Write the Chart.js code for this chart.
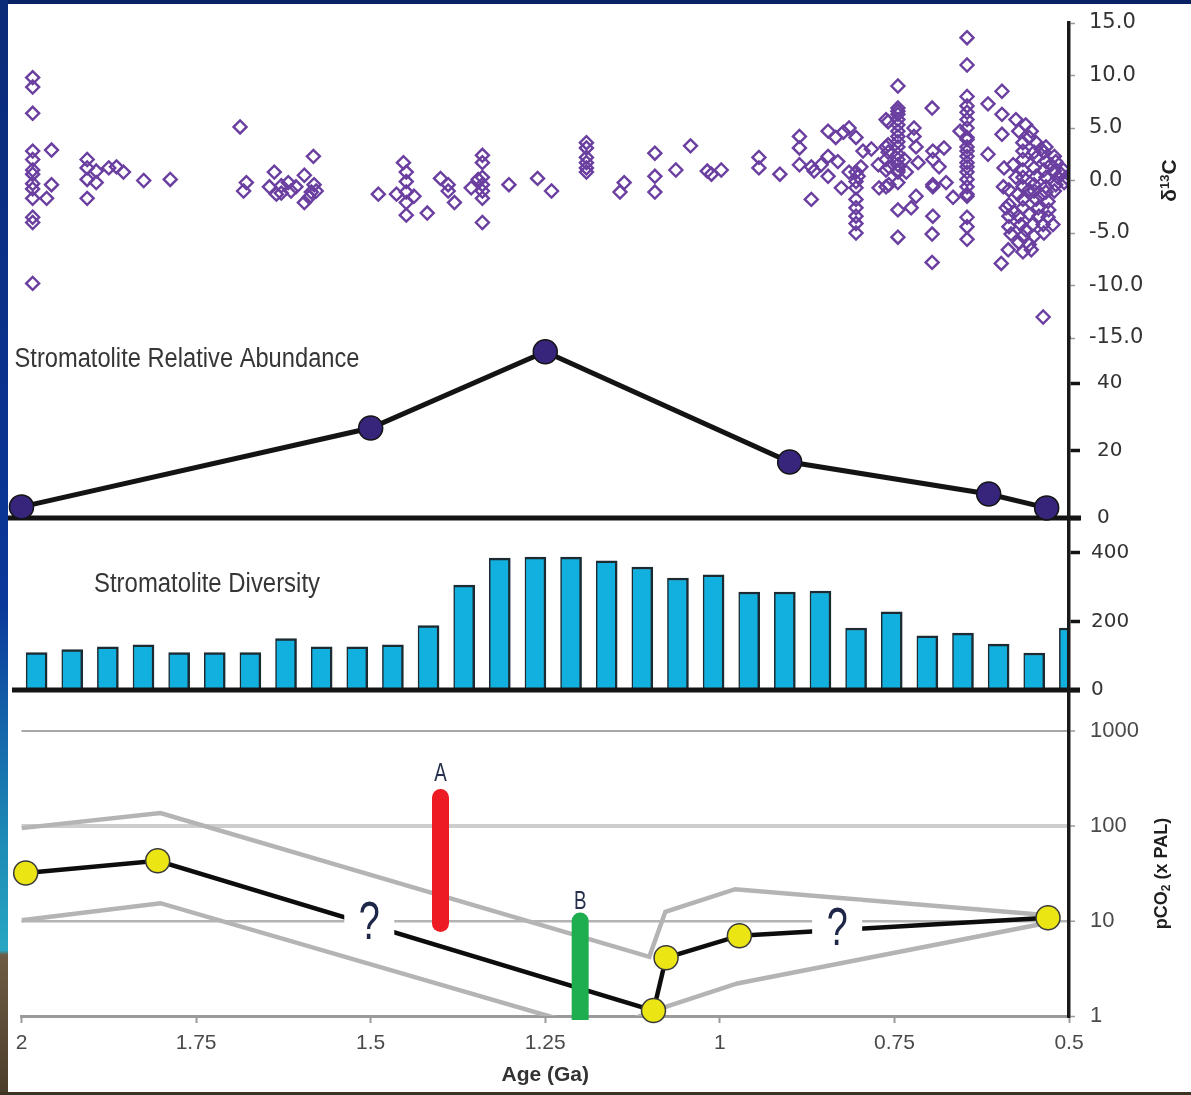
<!DOCTYPE html>
<html>
<head>
<meta charset="utf-8">
<title>Stromatolites, δ13C and pCO2, 2.0–0.5 Ga</title>
<script src="https://cdn.jsdelivr.net/npm/chart.js@4/dist/chart.umd.min.js"></script>
<style>
  html, body { margin: 0; padding: 0; width: 1191px; height: 1095px; overflow: hidden; background: #0a2263; }
  #edge { position: absolute; left: 0; top: 0; width: 8px; height: 1095px;
    background: linear-gradient(to bottom, #0b2a78 0%, #0a379a 55%, #1360a8 65%, #1f8fb8 78%, #27a6c2 86.8%, #6e5b43 87.2%, #4b3d2b 100%); }
  #foot { position: absolute; left: 0; top: 1092px; width: 1191px; height: 3px; background: #3d3322; }
  #panel { position: absolute; left: 8px; top: 4px; width: 1183px; height: 1088px; background: #ffffff; }
  #panel canvas { display: block; }
</style>
</head>
<body>
<div id="edge"></div>
<div id="panel"><canvas id="chart" width="1183" height="1088" style="width:1183px;height:1088px"></canvas></div>
<div id="foot"></div>
<script>
// ---- carbonate δ13C record: [age (Ga), δ13C (‰)] ----
const carbonIsotopes = [
  [1.984, 9.8], [1.984, 8.9], [1.984, 6.4], [1.984, 2.8], [1.984, 2.0], [1.984, 1.0], [1.984, 0.6],
  [1.984, -0.3], [1.984, -0.8], [1.984, -1.7], [1.984, -3.5], [1.984, -4.0], [1.984, -9.8],
  [1.964, -1.7], [1.957, 2.9], [1.957, -0.4],
  [1.906, 2.0], [1.906, 1.2], [1.906, 0.1], [1.906, -1.7], [1.893, 0.9], [1.893, -0.2],
  [1.875, 1.2], [1.864, 1.3], [1.854, 0.8], [1.825, 0.0], [1.787, 0.1],
  [1.687, 5.1], [1.682, -1.0], [1.678, -0.2],
  [1.645, -0.6], [1.638, 0.8], [1.635, -1.3], [1.628, -0.5], [1.628, -1.2], [1.618, -0.2], [1.614, -1.0], [1.607, -0.6],
  [1.595, 0.5], [1.595, -2.1], [1.588, -1.6], [1.585, -1.1], [1.582, 2.3], [1.581, -0.4], [1.578, -1.0],
  [1.489, -1.3], [1.463, -1.3], [1.453, 1.7], [1.449, 0.8], [1.449, -0.1], [1.449, -1.1], [1.449, -2.1], [1.449, -3.3],
  [1.438, -1.5], [1.419, -3.1], [1.400, 0.2], [1.389, -0.4], [1.389, -1.0], [1.380, -2.1], [1.356, -0.7],
  [1.346, 0.1], [1.340, 2.4], [1.340, 1.7], [1.340, 0.3], [1.340, -0.4], [1.340, -1.0], [1.340, -1.7], [1.340, -4.0],
  [1.302, -0.4], [1.261, 0.2], [1.241, -1.0],
  [1.191, 3.6], [1.191, 3.1], [1.191, 2.2], [1.191, 1.7], [1.191, 1.2], [1.191, 0.8],
  [1.143, -1.1], [1.137, -0.2], [1.093, 2.6], [1.093, 0.4], [1.093, -1.1],
  [1.063, 1.0], [1.042, 3.3], [1.018, 0.9], [1.012, 0.6], [0.998, 1.0],
  [0.944, 2.2], [0.944, 1.2], [0.914, 0.6], [0.886, 4.2], [0.886, 3.1], [0.886, 1.5],
  [0.869, 1.3], [0.869, -1.8], [0.865, 0.9], [0.855, 1.5], [0.845, 4.7], [0.845, 2.3], [0.845, 0.4],
  [0.834, 4.1], [0.831, 1.8], [0.826, -0.7], [0.823, 4.6], [0.815, 5.0], [0.815, 0.8],
  [0.805, 4.1], [0.805, 0.8], [0.805, -0.1], [0.805, -0.7], [0.805, -1.8], [0.805, -2.6], [0.805, -3.4], [0.805, -4.1], [0.805, -5.0],
  [0.802, 0.4], [0.798, 1.3], [0.795, 2.8], [0.783, 3.0], [0.773, 1.5], [0.772, -0.7],
  [0.762, 5.8], [0.762, 3.2], [0.762, 2.0], [0.762, 1.0], [0.762, -0.6],
  [0.759, 5.6], [0.759, 3.4], [0.759, 2.7], [0.758, 1.3], [0.758, -0.4],
  [0.745, 9.0], [0.745, 6.9], [0.745, 6.6], [0.745, 6.3], [0.745, 5.8], [0.745, 5.3], [0.745, 4.7], [0.745, 4.2], [0.745, 3.7],
  [0.745, 3.2], [0.745, 2.5], [0.745, 2.0], [0.745, 1.5], [0.745, 1.0], [0.745, 0.8], [0.745, -0.2], [0.745, -2.8], [0.745, -5.4],
  [0.736, 2.0], [0.733, 0.8], [0.726, -2.6], [0.722, 5.0], [0.722, 4.2], [0.719, 3.2], [0.719, -1.5], [0.716, 1.7],
  [0.696, 6.9], [0.696, -5.1], [0.696, -7.8], [0.695, 2.8], [0.695, 2.0], [0.695, -0.4], [0.695, -3.4], [0.695, -0.6],
  [0.686, 1.3], [0.679, 3.1], [0.676, -0.2], [0.666, -1.6], [0.656, 4.7],
  [0.646, 13.6], [0.646, 11.0], [0.646, 8.0], [0.646, 7.1], [0.646, 6.5], [0.646, 5.8], [0.646, 5.0], [0.646, 4.1],
  [0.646, 3.9], [0.646, 3.2], [0.646, 2.8], [0.646, 2.3], [0.646, 1.7], [0.646, 1.3], [0.646, 0.8], [0.646, 0.1],
  [0.646, -0.6], [0.646, -1.3], [0.646, -1.5], [0.646, -3.5], [0.646, -4.4], [0.646, -5.6],
  [0.616, 7.3], [0.616, 2.5], [0.596, 8.5], [0.596, 6.3], [0.596, 4.4], [0.593, 1.2], [0.594, -0.6],
  [0.597, -7.9], [0.587, -6.6], [0.586, -0.9],
  [0.576, 5.8], [0.562, 5.3], [0.572, 4.7], [0.554, 4.7], [0.557, 4.1], [0.566, 3.6], [0.547, 3.6], [0.533, 3.2], [0.540, 3.0],
  [0.566, 2.8], [0.550, 2.7], [0.536, 2.7], [0.521, 2.3], [0.566, 2.0], [0.547, 2.2], [0.533, 1.8], [0.519, 1.8],
  [0.580, 1.5], [0.526, 1.5], [0.566, 1.0], [0.550, 1.2], [0.536, 1.0], [0.521, 0.9], [0.508, 1.0], [0.511, 0.6],
  [0.576, 0.3], [0.566, 0.3], [0.547, 0.4], [0.533, 0.3], [0.516, 0.3], [0.504, 0.3],
  [0.566, -0.6], [0.550, -0.4], [0.533, -0.6], [0.519, -0.4], [0.507, -0.2], [0.557, -0.9],
  [0.573, -1.3], [0.550, -1.0], [0.533, -1.1], [0.521, -1.0], [0.540, -1.4],
  [0.586, -2.3], [0.566, -1.8], [0.547, -1.8], [0.530, -2.0], [0.590, -2.6], [0.566, -2.6], [0.544, -2.6], [0.529, -2.8], [0.579, -3.0],
  [0.586, -3.4], [0.572, -3.4], [0.557, -3.2], [0.543, -3.4], [0.530, -3.5],
  [0.586, -4.4], [0.569, -4.2], [0.552, -4.2], [0.537, -4.2], [0.523, -4.2], [0.562, -4.7],
  [0.583, -5.1], [0.566, -5.3], [0.550, -5.3], [0.536, -5.0], [0.572, -5.9], [0.557, -6.1],
  [0.566, -6.8], [0.554, -6.6],
  [0.537, -13.0]
];

// ---- stromatolite relative abundance (%) ----
const abundanceAge   = [2.0, 1.5, 1.25, 0.9, 0.615, 0.532];
const abundanceValue = [3.3, 26.7, 49.3, 16.6, 7.1, 3.0];

// ---- stromatolite diversity, one bar per time bin (oldest first) ----
const diversityBin   = [0, 1, 2, 3, 4, 5, 6, 7, 8, 9, 10, 11, 12, 13, 14, 15, 16, 17, 18, 19, 20, 21, 22, 23, 24, 25, 26, 27, 28, 29];
const diversityCount = [109, 118, 126, 132, 109, 109, 109, 150, 126, 126, 132, 188, 306, 385, 388, 388, 377, 359, 327, 336,
                        286, 286, 289, 181, 228, 158, 166, 134, 108, 181];

// ---- pCO2 (x PAL): best estimate and envelope ----
const pco2Age        = [1.994, 1.805, 1.095, 1.077, 0.972, 0.530];
const pco2Value      = [32, 43, 1.14, 4.1, 7.0, 10.8];
const pco2UpperAge   = [2.0, 1.801, 1.101, 1.078, 0.978, 0.530];
const pco2UpperValue = [95, 137, 4.2, 12.5, 21.6, 11.5];
const pco2LowerAge   = [2.0, 1.801, 1.17, 1.095, 0.975, 0.530];
const pco2LowerValue = [10.2, 15.4, 0.69, 1.13, 2.2, 9.6];

// independent estimates A and B
const estimateA = { label: 'A', age: 1.4, range: [9.4, 200] };
const estimateB = { label: 'B', age: 1.2, range: [0.93, 10] };
// gaps in the pCO2 curve marked "?"
const unknownSpans = [ { age: 1.502, pco2: 10.2 }, { age: 0.832, pco2: 8.9 } ];

// ---- tick values ----
const ageTicks       = [2, 1.75, 1.5, 1.25, 1, 0.75, 0.5];
const carbonTicks    = [15, 10, 5, 0, -5, -10, -15];
const abundanceTicks = [40, 20, 0];
const diversityTicks = [400, 200, 0];
const pco2Ticks      = [1000, 100, 10, 1];

// ---------------------------------------------------------------
const xy = (xs, ys) => xs.map((x, i) => ({ x: x, y: ys[i] }));
const useTicks = values => scale => {
  scale.ticks = values.slice().sort((a, b) => a - b).map(v => ({ value: v }));
};
const AXIS_W = 122;
// fixed axis width; no extra room reserved for half-labels at the ends
const rightWidth = s => { s.width = AXIS_W; s.paddingTop = 0; s.paddingBottom = 0; };

const pco2GridStyle = { 1000: ['#a8a8a8', 2], 100: ['#cdcdcd', 4], 10: ['#b3b3b3', 2.5], 1: ['#9a9a9a', 3] };
const gridStyle = (c, k, fallback) => (c.tick && pco2GridStyle[c.tick.value]) ? pco2GridStyle[c.tick.value][k] : fallback;

function fittedText(ctx, text, x, y, width, font, color) {
  ctx.save();
  ctx.font = font;
  const k = width / ctx.measureText(text).width;
  ctx.translate(x, y);
  ctx.scale(k, 1);
  ctx.fillStyle = color;
  ctx.textAlign = 'left';
  ctx.textBaseline = 'alphabetic';
  ctx.fillText(text, 0, 0);
  ctx.restore();
}

function rotatedTitle(ctx, parts, cx, cy) {
  ctx.save();
  ctx.translate(cx, cy);
  ctx.rotate(-Math.PI / 2);
  let total = 0;
  parts.forEach(p => { ctx.font = p.font; p.w = ctx.measureText(p.t).width; total += p.w; });
  let x = -total / 2;
  ctx.textBaseline = 'middle';
  ctx.textAlign = 'left';
  ctx.fillStyle = '#1f1f1f';
  parts.forEach(p => { ctx.font = p.font; ctx.fillText(p.t, x, p.dy || 0); x += p.w; });
  ctx.restore();
}

function baseline(ctx, y, x0, x1, w) {
  ctx.save();
  ctx.strokeStyle = '#141414';
  ctx.lineWidth = w;
  ctx.beginPath();
  ctx.moveTo(x0, y);
  ctx.lineTo(x1, y);
  ctx.stroke();
  ctx.restore();
}

const decorations = {
  id: 'decorations',
  beforeDatasetsDraw(chart) {
    const { ctx, chartArea: a, scales } = chart;
    baseline(ctx, scales.yA.getPixelForValue(0), 0, a.right + 12, 5);
  },
  afterDatasetsDraw(chart) {
    const { ctx, chartArea: a, scales } = chart;
    baseline(ctx, scales.yD.getPixelForValue(0), 4, a.right + 11, 5);

    // white breaks with "?" over the pCO2 curve
    unknownSpans.forEach(q => {
      const px = scales.x.getPixelForValue(q.age);
      const py = scales.yP.getPixelForValue(q.pco2);
      ctx.save();
      ctx.fillStyle = '#ffffff';
      ctx.fillRect(px - 25, py - 24, 50, 48);
      ctx.restore();
      ctx.save();
      ctx.font = "54px 'Liberation Sans'";
      ctx.translate(px, py + 19);
      ctx.scale(0.7, 1);
      ctx.fillStyle = '#1e2747';
      ctx.textAlign = 'center';
      ctx.textBaseline = 'alphabetic';
      ctx.fillText('?', 0, 0);
      ctx.restore();
    });

    // labels above the A and B estimates
    [[estimateA, 16], [estimateB, 12]].forEach(([e, gap]) => {
      const px = scales.x.getPixelForValue(e.age);
      const top = scales.yP.getPixelForValue(e.range[1]);
      ctx.save();
      ctx.font = "25px 'Liberation Sans'";
      ctx.translate(px, top - gap);
      ctx.scale(0.75, 1);
      ctx.fillStyle = '#26304d';
      ctx.textAlign = 'center';
      ctx.fillText(e.label, 0, 0);
      ctx.restore();
    });
  },
  afterDraw(chart) {
    const { ctx, chartArea: a, scales } = chart;
    fittedText(ctx, 'Stromatolite Relative Abundance', 6.5, 363, 345, "27px 'Liberation Sans'", '#363636');
    fittedText(ctx, 'Stromatolite Diversity', 86, 588, 226, "27px 'Liberation Sans'", '#363636');

    const cMid = (scales.yC.top + scales.yC.bottom) / 2;
    rotatedTitle(ctx, [
      { t: 'δ', font: "bold 21px 'Liberation Sans'" },
      { t: '13', font: "bold 13px 'Liberation Sans'", dy: -5 },
      { t: 'C', font: "bold 21px 'Liberation Sans'" }
    ], a.right + 101, cMid);

    const pMid = (scales.yP.getPixelForValue(1) + scales.yP.getPixelForValue(1000)) / 2;
    rotatedTitle(ctx, [
      { t: 'pCO', font: "bold 18px 'Liberation Sans'" },
      { t: '2', font: "bold 12px 'Liberation Sans'", dy: 5 },
      { t: ' (x PAL)', font: "bold 18px 'Liberation Sans'" }
    ], a.right + 93, pMid);
  }
};

Chart.defaults.font.family = "'Liberation Sans', Arial, sans-serif";

new Chart(document.getElementById('chart'), {
  type: 'scatter',
  data: {
    datasets: [
      {
        type: 'scatter', label: 'δ13C',
        data: carbonIsotopes.map(p => ({ x: p[0], y: p[1] })),
        xAxisID: 'x', yAxisID: 'yC', order: 1,
        pointStyle: 'rectRot', pointRadius: 6.5, borderWidth: 2.4,
        borderColor: '#6a3fa0', backgroundColor: 'rgba(255,255,255,0)'
      },
      {
        type: 'line', label: 'Stromatolite relative abundance',
        data: xy(abundanceAge, abundanceValue),
        xAxisID: 'x', yAxisID: 'yA', order: 1, clip: false,
        borderColor: '#141414', borderWidth: 5, tension: 0,
        pointRadius: 12, pointBackgroundColor: '#37247b', pointBorderColor: '#141414', pointBorderWidth: 1.5
      },
      {
        type: 'bar', label: 'Stromatolite diversity',
        data: xy(diversityBin, diversityCount),
        xAxisID: 'xb', yAxisID: 'yD', order: 1,
        barThickness: 21, backgroundColor: '#12b0de',
        borderColor: '#1c2a32', borderWidth: { top: 2.5, right: 2.5, left: 1.5, bottom: 0 }, borderSkipped: 'start'
      },
      {
        type: 'line', label: 'pCO2 upper',
        data: xy(pco2UpperAge, pco2UpperValue),
        xAxisID: 'x', yAxisID: 'yP', order: 10,
        borderColor: '#b4b4b4', borderWidth: 4.5, pointRadius: 0, tension: 0
      },
      {
        type: 'line', label: 'pCO2 lower',
        data: xy(pco2LowerAge, pco2LowerValue),
        xAxisID: 'x', yAxisID: 'yP', order: 10,
        borderColor: '#b4b4b4', borderWidth: 4.5, pointRadius: 0, tension: 0
      },
      {
        type: 'line', label: 'pCO2',
        data: xy(pco2Age, pco2Value),
        xAxisID: 'x', yAxisID: 'yP', order: 8, clip: false,
        borderColor: '#0d0d0d', borderWidth: 4.5, tension: 0,
        pointRadius: 12, pointBackgroundColor: '#ebe613', pointBorderColor: '#3a3a3a', pointBorderWidth: 1.5
      },
      {
        type: 'line', label: 'A',
        data: estimateA.range.map(v => ({ x: estimateA.age, y: v })),
        xAxisID: 'x', yAxisID: 'yP', order: 5, clip: false,
        borderColor: '#ed1c24', borderWidth: 17, borderCapStyle: 'round', pointRadius: 0
      },
      {
        type: 'line', label: 'B',
        data: estimateB.range.map(v => ({ x: estimateB.age, y: v })),
        xAxisID: 'x', yAxisID: 'yP', order: 5, clip: { left: false, right: false, top: false, bottom: 4 },
        borderColor: '#1fae4f', borderWidth: 17, borderCapStyle: 'round', pointRadius: 0
      }
    ]
  },
  options: {
    responsive: false,
    animation: false,
    devicePixelRatio: 1,
    events: [],
    layout: { padding: { left: 12, top: 19, right: 0, bottom: 0 } },
    plugins: { legend: { display: false }, tooltip: { enabled: false } },
    scales: {
      x: {
        type: 'linear', position: 'bottom', min: 0.5, max: 2, reverse: true, offset: false,
        afterBuildTicks: useTicks(ageTicks),
        afterFit: s => { s.height = 76; s.paddingLeft = 0; s.paddingRight = 0; },
        grid: { drawOnChartArea: false, drawTicks: true, tickLength: 7, tickColor: '#9a9a9a', tickWidth: 2 },
        border: { display: true, color: '#9a9a9a', width: 3 },
        ticks: { callback: v => String(v), font: { size: 21 }, color: '#4a4a4a', padding: 8, maxRotation: 0, autoSkip: false },
        title: { display: true, text: 'Age (Ga)', font: { size: 21, weight: 'bold' }, color: '#333333', padding: { top: 4, bottom: 4 } }
      },
      xb: { type: 'linear', display: false, min: -0.13, max: 29.27, offset: false },
      yC: {
        type: 'linear', position: 'right', stack: 'right', stackWeight: 315, min: -15, max: 15,
        afterBuildTicks: useTicks(carbonTicks), afterFit: rightWidth,
        grid: { drawOnChartArea: false, tickLength: 6, tickColor: '#9a9a9a', tickWidth: 1.5 },
        border: { color: '#1a1a1a', width: 3.5, z: 1 },
        ticks: { callback: v => v.toFixed(1), font: { family: "'DejaVu Sans'", size: 21 }, color: '#333333', padding: 14, autoSkip: false }
      },
      yA: {
        type: 'linear', position: 'right', stack: 'right', stackWeight: 180, min: 0, max: 53.4,
        afterBuildTicks: useTicks(abundanceTicks), afterFit: rightWidth,
        grid: { drawOnChartArea: false, tickLength: 11, tickColor: '#141414', tickWidth: 3.5 },
        border: { color: '#1a1a1a', width: 3.5, z: 1 },
        ticks: { font: { family: "'DejaVu Sans'", size: 20 }, color: '#333333', padding: 17, autoSkip: false }
      },
      yD: {
        type: 'linear', position: 'right', stack: 'right', stackWeight: 172, min: 0, max: 502,
        afterBuildTicks: useTicks(diversityTicks), afterFit: rightWidth,
        grid: { drawOnChartArea: false, tickLength: 11, tickColor: '#141414', tickWidth: 3.5 },
        border: { color: '#1a1a1a', width: 3.5, z: 1 },
        ticks: { font: { family: "'DejaVu Sans'", size: 20 }, color: '#333333', padding: 11, autoSkip: false }
      },
      yP: {
        type: 'logarithmic', position: 'right', stack: 'right', stackWeight: 326, min: 1, max: 2702,
        afterBuildTicks: useTicks(pco2Ticks), afterFit: rightWidth,
        grid: {
          drawOnChartArea: true,
          color: c => gridStyle(c, 0, 'rgba(0,0,0,0)'),
          lineWidth: c => gridStyle(c, 1, 0),
          tickLength: 6, tickColor: '#9a9a9a', tickWidth: 1.5
        },
        border: { color: '#1a1a1a', width: 3.5, z: 1 },
        ticks: { callback: v => String(v), font: { size: 22 }, color: '#4a4a4a', padding: 15, autoSkip: false }
      }
    }
  },
  plugins: [decorations]
});
</script>
</body>
</html>
